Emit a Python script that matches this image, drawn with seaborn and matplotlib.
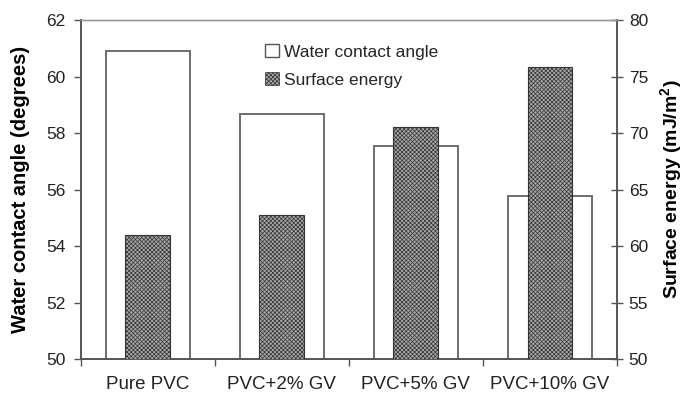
"""
Water contact angle and surface energy of PVC films with GV
"""

import matplotlib
matplotlib.use('Agg')
import matplotlib.pyplot as plt
from matplotlib.patches import Patch
import seaborn as sns

# Data
samples = ['Pure PVC', 'PVC+2% GV', 'PVC+5% GV', 'PVC+10% GV']
contact_angle = [60.9, 58.67, 57.55, 55.78]      # degrees (left axis)
surface_energy = [61.0, 62.77, 70.56, 75.87]     # mJ/m2 (right axis)

sns.set_theme(style='white')
plt.rcParams['font.family'] = ['Liberation Sans', 'DejaVu Sans']
plt.rcParams['hatch.linewidth'] = 0.5
plt.rcParams['hatch.color'] = '#333333'

fig = plt.figure(figsize=(6.85, 3.96), dpi=100)
ax = fig.add_axes([0.118, 0.0934, 0.7827, 0.8561])
ax2 = ax.twinx()

# White bars - contact angle
sns.barplot(x=samples, y=contact_angle, ax=ax, color='white', saturation=1,
            width=0.625, edgecolor='#6e6e6e', linewidth=1.4, zorder=2)

# Hatched bars - surface energy (fine checker texture)
sns.barplot(x=samples, y=surface_energy, ax=ax2, color='#a8a8a8', saturation=1,
            width=0.335, edgecolor='#333333', linewidth=0.8, hatch='xxxxxxxx', zorder=3)

ax.set_ylim(50, 62)
ax.set_yticks(range(50, 63, 2))
ax2.set_ylim(50, 80)
ax2.set_yticks(range(50, 81, 5))
for a in (ax, ax2):
    a.set_xlim(-0.5, 3.5)
    a.set_xlabel('')

ax.set_ylabel('Water contact angle (degrees)', fontsize=14.5, fontweight='bold',
              color='black')
ax.yaxis.set_label_coords(-0.094, 0.5)
ax2.set_ylabel('Surface energy (mJ/m$^\\mathregular{2}$)', fontsize=14,
               fontweight='bold', color='black')
ax2.yaxis.set_label_coords(1.077, 0.5)

# Ticks
ax.tick_params(axis='y', which='major', direction='out', length=5, width=1,
               color='#555555', labelsize=12.5, labelcolor='#222222', pad=6, left=True)
ax2.tick_params(axis='y', which='major', direction='inout', length=9, width=1,
                color='#555555', labelsize=12.5, labelcolor='#222222', pad=4, right=True)
ax.tick_params(axis='x', which='major', length=0, labelsize=13.5,
               labelcolor='#222222', pad=12)
ax.set_xticks([-0.5, 0.5, 1.5, 2.5, 3.5], minor=True)
ax.tick_params(axis='x', which='minor', direction='out', length=5, width=1,
               color='#555555', bottom=True)
ax2.tick_params(axis='x', which='both', bottom=False, labelbottom=False)

# Frame
for a in (ax, ax2):
    for side in ['left', 'right', 'bottom']:
        a.spines[side].set_color('#555555')
        a.spines[side].set_linewidth(1.2)
    a.spines['top'].set_color('#9a9a9a')
    a.spines['top'].set_linewidth(1.0)

# Legend
handles = [Patch(facecolor='white', edgecolor='#555555', linewidth=1.0),
           Patch(facecolor='#a8a8a8', edgecolor='#333333', linewidth=0.5, hatch='xxxxxxxx')]
leg = ax2.legend(handles, ['Water contact angle', 'Surface energy'],
                 loc='upper left', bbox_to_anchor=(265 / 685, 1 - 44 / 396),
                 bbox_transform=fig.transFigure, frameon=False, fontsize=12.5,
                 handlelength=0.8, handleheight=0.8, handletextpad=0.3,
                 labelspacing=0.7, borderpad=0, borderaxespad=0)

plt.savefig('out.png', dpi=100)
plt.close()
